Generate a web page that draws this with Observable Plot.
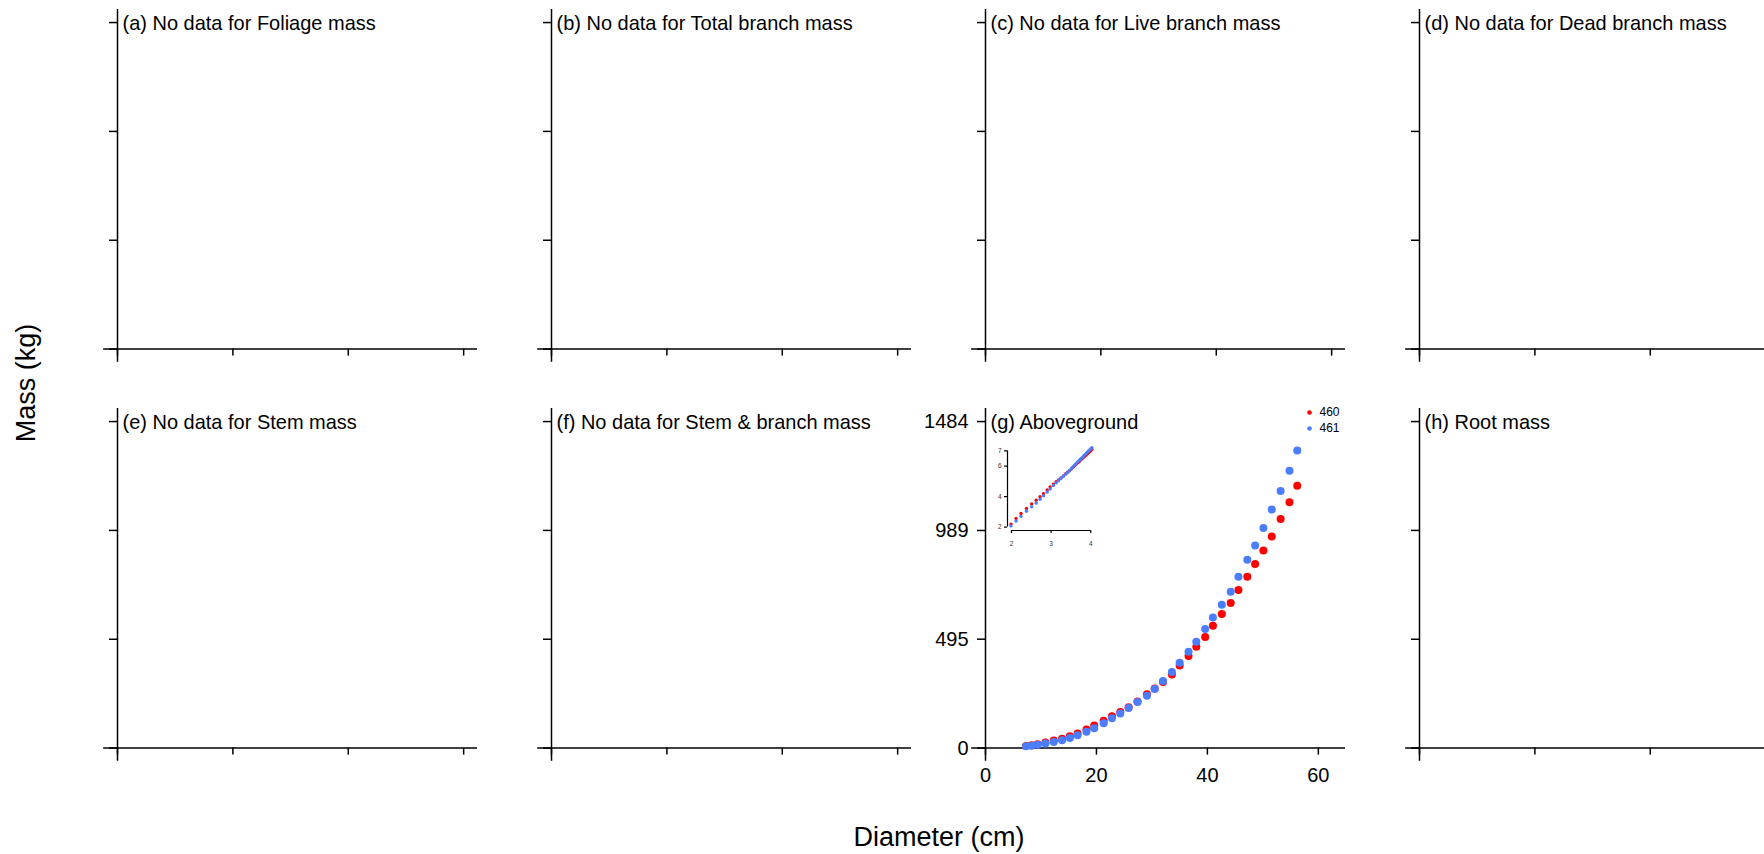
<!DOCTYPE html>
<html>
<head>
<meta charset="utf-8">
<script src="https://cdn.jsdelivr.net/npm/d3@7"></script>
<script src="https://cdn.jsdelivr.net/npm/@observablehq/plot@0.6"></script>
<style>
html, body { margin: 0; padding: 0; background: #fff; overflow: hidden; }
#fig { position: relative; width: 1764px; height: 854px; overflow: hidden; background: #fff;
       font-family: "Liberation Sans", Arial, sans-serif; color: #000; }
#fig svg { position: absolute; }
.axis-title { position: absolute; line-height: 1; white-space: nowrap; }
</style>
</head>
<body>
<div id="fig"></div>
<script>
// ---------- data ----------
const panelLabels = [
  "(a) No data for Foliage mass",
  "(b) No data for Total branch mass",
  "(c) No data for Live branch mass",
  "(d) No data for Dead branch mass",
  "(e) No data for Stem mass",
  "(f) No data for Stem & branch mass",
  "(g) Aboveground",
  "(h) Root mass"
];
const dataPanel = 6;
const diameters = [7.3, 8.3, 9.4, 10.8, 12.3, 13.8, 15.2, 16.6, 18.2, 19.6, 21.3, 22.8, 24.3, 25.8, 27.4, 29.1, 30.5,
  32.0, 33.6, 35.0, 36.6, 38.0, 39.6, 41.0, 42.6, 44.2, 45.6, 47.2, 48.6, 50.1, 51.6, 53.2, 54.8, 56.2];
const mass460 = [9, 13, 18, 25, 34, 43, 54, 66, 84, 103, 124, 145, 164, 186, 212, 245, 271,
  300, 335, 375, 419, 461, 505, 556, 609, 659, 719, 779, 837, 898, 962, 1041, 1117, 1192];
const mass461 = [8, 11, 15, 21, 28, 36, 46, 58, 74, 90, 113, 136, 157, 182, 209, 238, 268,
  305, 346, 388, 438, 483, 541, 594, 652, 711, 779, 856, 921, 1000, 1084, 1168, 1260, 1352];
const seriesNames = ["460", "461"];
const seriesColors = ["#ff0000", "#4a7dff"];
const massTicks = [0, 495, 989, 1484];
const diameterTicks = [0, 20, 40, 60];
const diameterMax = 62.4;
const emptyTicks = [0, 1 / 3, 2 / 3, 1];
const insetXTicks = [2, 3, 4];
const insetYTicks = [2, 4, 6, 7];
const insetXDomain = [1.9, 4.1];
const insetYDomain = [1.78, 7.35];

// ---------- layout ----------
const fig = document.getElementById("fig");
const FONT = '"Liberation Sans", Arial, sans-serif';
const COL0 = 116.7, COLSTEP = 434, ROW0 = 9.3, ROWSTEP = 398.5;
const FW = 360, FH = 339.6;
const ML = 75, MR = 12, MT = 8, MB = 50;
const LW = 1.5;

const series = seriesNames.map((name, k) => ({
  name, color: seriesColors[k],
  rows: diameters.map((d, i) => ({d, m: (k === 0 ? mass460 : mass461)[i]}))
}));

function place(svg, left, top) {
  svg.style.left = left + "px";
  svg.style.top = top + "px";
  fig.appendChild(svg);
}

panelLabels.forEach((label, i) => {
  const row = Math.floor(i / 4), col = i % 4;
  const hasData = i === dataPanel;
  const xmax = hasData ? diameterMax : 1;
  const ymax = hasData ? massTicks[massTicks.length - 1] : 1;
  const xt = hasData ? diameterTicks : emptyTicks;
  const yt = hasData ? massTicks : emptyTicks;
  const fmt = hasData ? (d => String(d)) : (() => "");
  const marks = [
    Plot.ruleY([0], {x1: -0.04 * xmax, x2: 1.04 * xmax, stroke: "#000", strokeWidth: LW}),
    Plot.ruleX([0], {y1: -0.04 * ymax, y2: 1.04 * ymax, stroke: "#000", strokeWidth: LW}),
    Plot.axisY({ticks: yt, tickSize: 8, tickPadding: 9, tickFormat: fmt, label: null,
      stroke: "#000", fill: "#000", strokeWidth: LW, fontSize: 20}),
    Plot.axisX({ticks: xt, tickSize: 7, tickPadding: 13, tickFormat: fmt, label: null,
      stroke: "#000", fill: "#000", strokeWidth: LW, fontSize: 20}),
    Plot.text([label], {frameAnchor: "top-left", dx: 5, dy: 6, lineAnchor: "top",
      textAnchor: "start", fontSize: 20, fill: "#000"})
  ];
  if (hasData) {
    series.forEach(s => {
      marks.push(Plot.dot(s.rows, {x: "d", y: "m", r: 4, fill: s.color, stroke: "none"}));
    });
    series.forEach((s, k) => {
      marks.push(Plot.dot([s.name], {frameAnchor: "top-right", dx: -36, dy: 4 + 16 * k,
        r: 2.3, fill: s.color, stroke: "none"}));
      marks.push(Plot.text([s.name], {frameAnchor: "top-right", dx: -26, dy: 4 + 16 * k,
        textAnchor: "start", lineAnchor: "middle", fontSize: 12, fill: "#000"}));
    });
  }
  const svg = Plot.plot({
    width: ML + FW + MR, height: MT + FH + MB,
    marginLeft: ML, marginRight: MR, marginTop: MT, marginBottom: MB,
    x: {domain: [0, 1.04 * xmax]},
    y: {domain: [0, 1.04 * ymax]},
    style: {background: "transparent", overflow: "visible", fontFamily: FONT, color: "#000"},
    marks
  });
  place(svg, COL0 + col * COLSTEP - ML, ROW0 + row * ROWSTEP - MT);
});

// ---------- inset (log-log) in panel g ----------
const gCol = dataPanel % 4, gRow = Math.floor(dataPanel / 4);
const iML = 16, iMR = 4, iMT = 4, iMB = 16, IFW = 87.2, IFH = 85;
const insetMarks = [
  Plot.ruleX([insetXDomain[0]], {y1: insetYTicks[0], y2: insetYTicks[insetYTicks.length - 1], stroke: "#000", strokeWidth: 1.2}),
  Plot.ruleY([insetYDomain[0]], {x1: insetXTicks[0], x2: insetXTicks[insetXTicks.length - 1], stroke: "#000", strokeWidth: 1.2}),
  Plot.axisY({ticks: insetYTicks, tickSize: 3, tickPadding: 3, label: null, stroke: "#000", fill: "#333",
    strokeWidth: 1.2, fontSize: 6.5, tickFormat: d => String(d)}),
  Plot.axisX({ticks: insetXTicks, tickSize: 3, tickPadding: 8, label: null, stroke: "#000", fill: "#333",
    strokeWidth: 1.2, fontSize: 6.5, tickFormat: d => String(d)})
];
series.forEach(s => {
  insetMarks.push(Plot.dot(s.rows, {x: r => Math.log(r.d), y: r => Math.log(r.m), r: 1.7, fill: s.color, stroke: "none"}));
});
const inset = Plot.plot({
  width: iML + IFW + iMR, height: iMT + IFH + iMB,
  marginLeft: iML, marginRight: iMR, marginTop: iMT, marginBottom: iMB,
  x: {domain: insetXDomain}, y: {domain: insetYDomain},
  style: {background: "transparent", overflow: "visible", fontFamily: FONT, color: "#000"},
  marks: insetMarks
});
place(inset, COL0 + gCol * COLSTEP + 22 - iML, ROW0 + gRow * ROWSTEP + 37.3 - iMT);

// ---------- axis titles ----------
const xt = document.createElement("div");
xt.className = "axis-title";
xt.textContent = "Diameter (cm)";
xt.style.fontSize = "27px";
xt.style.left = "939px";
xt.style.top = "836.7px";
xt.style.transform = "translate(-50%, -50%)";
fig.appendChild(xt);

const yt = document.createElement("div");
yt.className = "axis-title";
yt.textContent = "Mass (kg)";
yt.style.fontSize = "27px";
yt.style.left = "26px";
yt.style.top = "383px";
yt.style.transform = "translate(-50%, -50%) rotate(-90deg)";
fig.appendChild(yt);
</script>
</body>
</html>
